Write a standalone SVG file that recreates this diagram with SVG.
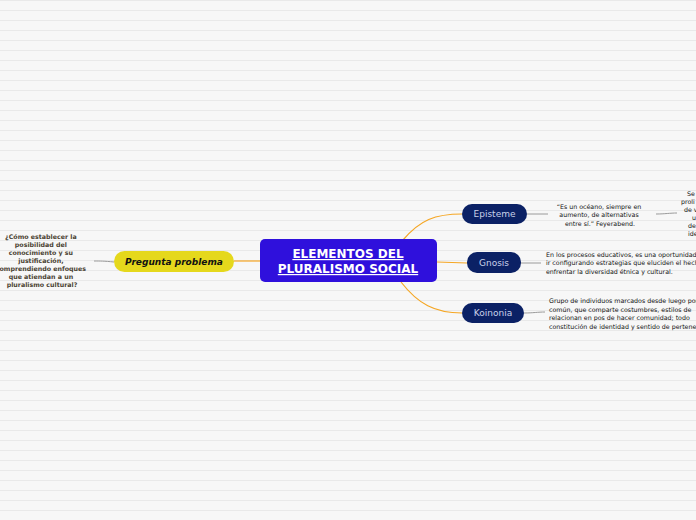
<svg xmlns="http://www.w3.org/2000/svg" width="696" height="520" viewBox="0 0 696 520">
<defs>
<pattern id="stripes" x="0" y="0" width="696" height="10" patternUnits="userSpaceOnUse">
<rect x="0" y="0" width="696" height="10" fill="#f7f7f7"/>
<rect x="0" y="0" width="696" height="1" fill="#e9e9e9"/>
</pattern>
<style>
.conn{fill:none;stroke:#f5a623;stroke-width:1.2}
.gl{fill:none;stroke:#9a9a9a;stroke-width:1}
.sub{fill:#0b2165}
.subt{font-family:"DejaVu Sans",Verdana,sans-serif;font-size:9px;fill:#c9d1ea;text-anchor:middle}
.note{font-family:"DejaVu Sans",Verdana,sans-serif;font-size:6.3px;fill:#111}
.mid{text-anchor:middle}
</style>
</defs>
<rect width="696" height="520" fill="url(#stripes)"/>
<g id="connectors">
<path class="conn" d="M260,261 L234,261"/>
<path class="conn" d="M403,240 C420,220 435,214 462,214"/>
<path class="conn" d="M437,262 L467,263"/>
<path class="conn" d="M401,282 C418,304 435,313 462,313"/>
<path class="gl" d="M114,262 C104,261 100,261 94,261"/>
<path class="gl" d="M527,214 L548,214"/>
<path class="gl" d="M656,214 C665,214 670,213 677,213"/>
<path class="gl" d="M521,263 L541,263"/>
<path class="gl" d="M524,313 C533,313 538,312 545,312"/>
</g>
<g id="central">
<rect x="260" y="239" width="177" height="43" rx="5" fill="#2f10dc"/>
<text x="348" y="258" font-family="DejaVu Sans,Verdana,sans-serif" font-size="12" font-weight="bold" fill="#fff" text-anchor="middle" text-decoration="underline">ELEMENTOS DEL </text>
<text x="348" y="273" font-family="DejaVu Sans,Verdana,sans-serif" font-size="12" font-weight="bold" fill="#fff" text-anchor="middle" text-decoration="underline">PLURALISMO SOCIAL</text>
</g>
<g id="pregunta">
<rect x="114" y="251" width="120" height="21" rx="10.5" fill="#e5d81c"/>
<text x="174" y="265" font-family="DejaVu Sans,Verdana,sans-serif" font-size="9" font-weight="bold" font-style="italic" fill="#111" text-anchor="middle">Pregunta problema</text>
</g>
<g id="pregunta-text">
<text font-family="DejaVu Sans,Verdana,sans-serif" font-size="6.3" font-weight="bold" fill="#4a4232" text-anchor="middle">
<tspan x="42" y="239">¿Cómo establecer la</tspan>
<tspan x="42" y="247">posibilidad del</tspan>
<tspan x="42" y="255">conocimiento y su</tspan>
<tspan x="42" y="263">justificación,</tspan>
<tspan x="42" y="271">comprendiendo enfoques</tspan>
<tspan x="42" y="279">que atiendan a un</tspan>
<tspan x="42" y="287">pluralismo cultural?</tspan>
</text>
</g>
<g id="episteme">
<rect class="sub" x="462" y="204" width="65" height="20" rx="10"/>
<text class="subt" x="494.5" y="217">Episteme</text>
</g>
<g id="episteme-text">
<text class="note mid">
<tspan x="600" y="209">“Es un océano, siempre en</tspan>
<tspan x="600" y="217">aumento, de alternativas</tspan>
<tspan x="600" y="226">entre sí.” Feyerabend.</tspan>
</text>
</g>
<g id="episteme-text2">
<text class="note">
<tspan x="687" y="196">Se</tspan>
<tspan x="681" y="204">proli</tspan>
<tspan x="684" y="212">de v</tspan>
<tspan x="692" y="220">u</tspan>
<tspan x="688" y="228">de</tspan>
<tspan x="688" y="236">ide</tspan>
</text>
</g>
<g id="gnosis">
<rect class="sub" x="467" y="252" width="54" height="21" rx="10"/>
<text class="subt" x="494" y="266">Gnosis</text>
</g>
<g id="gnosis-text">
<text class="note">
<tspan x="546" y="257">En los procesos educativos, es una oportunidad</tspan>
<tspan x="546" y="265">ir configurando estrategias que eluciden el hecho de</tspan>
<tspan x="546" y="274">enfrentar la diversidad étnica y cultural.</tspan>
</text>
</g>
<g id="koinonia">
<rect class="sub" x="462" y="303" width="62" height="20" rx="10"/>
<text class="subt" x="493" y="316">Koinonia</text>
</g>
<g id="koinonia-text">
<text class="note">
<tspan x="549" y="303">Grupo de individuos marcados desde luego por</tspan>
<tspan x="549" y="312">común, que comparte costumbres, estilos de</tspan>
<tspan x="549" y="320">relacionan en pos de hacer comunidad; todo</tspan>
<tspan x="549" y="329">constitución de identidad y sentido de pertenencia</tspan>
</text>
</g>
</svg>
